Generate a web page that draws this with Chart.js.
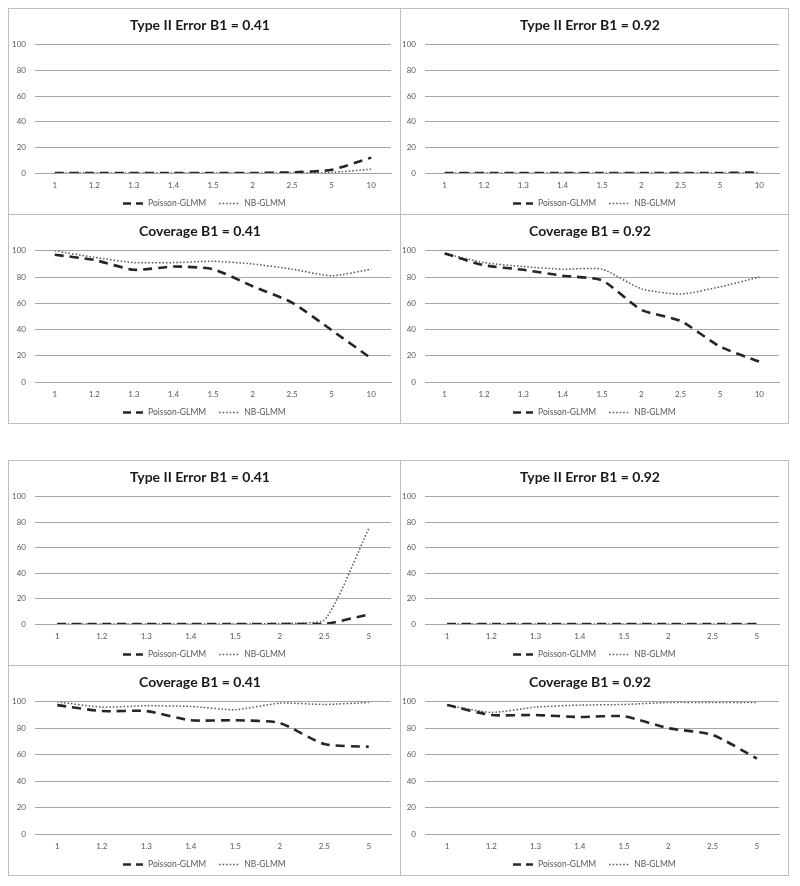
<!DOCTYPE html>
<html>
<head>
<meta charset="utf-8">
<script src="https://cdn.jsdelivr.net/npm/chart.js@4/dist/chart.umd.min.js"></script>
<style>
  body { margin: 0; background: #fff; width: 800px; height: 886px; position: relative; }
  .panel { position: absolute; border: 1px solid #bfbfbf; box-sizing: border-box; background: #fff; }
  .panel canvas { position: absolute; left: 0; top: 0; }
</style>
</head>
<body>
<script>
// x categories
const ratiosLong = ['1', '1.2', '1.3', '1.4', '1.5', '2', '2.5', '5', '10'];
const ratiosShort = ['1', '1.2', '1.3', '1.4', '1.5', '2', '2.5', '5'];

// y axis
const yMin = 0;
const yMax = 100;
const yStep = 20;

const seriesNames = ['Poisson-GLMM', 'NB-GLMM'];

// first block (9 ratios)
const typeII041PoissonA = [0, 0, 0, 0, 0, 0, 0.5, 2.5, 12];
const typeII041NBA = [0, 0, 0, 0, 0, 0, 0, 0.5, 3];
const typeII092PoissonA = [0, 0, 0, 0, 0, 0, 0, 0, 0.5];
const typeII092NBA = [0, 0, 0, 0, 0, 0, 0, 0, 0];
const cov041PoissonA = [97, 93, 85.5, 88, 86, 73, 60.5, 39.5, 18];
const cov041NBA = [100, 95, 91, 91, 92, 90, 86, 81, 86];
const cov092PoissonA = [98, 89, 85.5, 81, 77.5, 55, 46.5, 27, 15.5];
const cov092NBA = [98, 91, 88, 86, 86, 71, 67, 72.5, 80];

// second block (8 ratios)
const typeII041PoissonB = [0, 0, 0, 0, 0, 0, 0, 7.5];
const typeII041NBB = [0, 0, 0, 0, 0, 0.5, 3, 75];
const typeII092PoissonB = [0, 0, 0, 0, 0, 0, 0, 0];
const typeII092NBB = [0, 0, 0, 0, 0, 0, 0, 0];
const cov041PoissonB = [97.5, 93, 93, 86, 86, 84, 68, 66];
const cov041NBB = [100, 96, 97, 96.5, 94, 99, 98, 99.5];
const cov092PoissonB = [97.5, 90, 90, 88.5, 89, 80, 75, 57];
const cov092NBB = [97.5, 92, 96, 97.5, 98, 99.5, 99.5, 99.5];

// panel boxes on the page
const panels = [
    { title: 'Type II Error B1 = 0.41', labels: ratiosLong, poisson: typeII041PoissonA, nb: typeII041NBA, box: [8, 8, 393, 207] },
    { title: 'Type II Error B1 = 0.92', labels: ratiosLong, poisson: typeII092PoissonA, nb: typeII092NBA, box: [400, 8, 389, 207] },
    { title: 'Coverage B1 = 0.41', labels: ratiosLong, poisson: cov041PoissonA, nb: cov041NBA, box: [8, 214, 393, 210] },
    { title: 'Coverage B1 = 0.92', labels: ratiosLong, poisson: cov092PoissonA, nb: cov092NBA, box: [400, 214, 389, 210] },
    { title: 'Type II Error B1 = 0.41', labels: ratiosShort, poisson: typeII041PoissonB, nb: typeII041NBB, box: [8, 460, 393, 206] },
    { title: 'Type II Error B1 = 0.92', labels: ratiosShort, poisson: typeII092PoissonB, nb: typeII092NBB, box: [400, 460, 389, 206] },
    { title: 'Coverage B1 = 0.41', labels: ratiosShort, poisson: cov041PoissonB, nb: cov041NBB, box: [8, 665, 393, 211] },
    { title: 'Coverage B1 = 0.92', labels: ratiosShort, poisson: cov092PoissonB, nb: cov092NBB, box: [400, 665, 389, 211] }
];

const fontFamily = 'Lato, "Open Sans", sans-serif';

// excel-like legend under the axis: dashed sample + name, items centred
// (the built-in legend loses borderDash with point styles, so it is drawn here)
const bottomLegend = {
    id: 'bottomLegend',
    afterDraw(chart) {
        const ctx = chart.ctx;
        const sample = 20, textGap = 5, itemGap = 13;
        const y = Math.round(chart.chartArea.bottom + 30) + 0.5;
        ctx.save();
        ctx.font = '8.5px ' + fontFamily;
        const items = chart.data.datasets.map(ds => ({ ds, w: ctx.measureText(ds.label).width }));
        const total = items.reduce((s, it) => s + sample + textGap + it.w, 0) + itemGap * (items.length - 1);
        let x = Math.round((chart.width - total) / 2);
        items.forEach(it => {
            ctx.strokeStyle = it.ds.borderColor;
            ctx.lineWidth = it.ds.borderWidth;
            ctx.setLineDash(it.ds.legendDash);
            ctx.beginPath();
            ctx.moveTo(x, y);
            ctx.lineTo(x + sample, y);
            ctx.stroke();
            x += sample + textGap;
            ctx.fillStyle = '#595959';
            ctx.textBaseline = 'middle';
            ctx.fillText(it.ds.label, x, y);
            x += it.w + itemGap;
        });
        ctx.restore();
    }
};

panels.forEach((p, i) => {
    const [left, top, w, h] = p.box;
    const div = document.createElement('div');
    div.className = 'panel';
    div.style.left = left + 'px';
    div.style.top = top + 'px';
    div.style.width = w + 'px';
    div.style.height = h + 'px';
    const canvas = document.createElement('canvas');
    canvas.width = w - 2;
    canvas.height = h - 2;
    canvas.style.width = (w - 2) + 'px';
    canvas.style.height = (h - 2) + 'px';
    div.appendChild(canvas);
    document.body.appendChild(div);

    new Chart(canvas.getContext('2d'), {
        type: 'line',
        data: {
            labels: p.labels,
            datasets: [{
                label: seriesNames[0],
                data: p.poisson,
                borderColor: '#262626',
                backgroundColor: '#262626',
                borderWidth: 2.6,
                borderDash: [9, 6],
                legendDash: [8, 5],
                pointRadius: 0,
                tension: 0.2
            }, {
                label: seriesNames[1],
                data: p.nb,
                borderColor: '#555555',
                backgroundColor: '#555555',
                borderWidth: 1.5,
                borderDash: [1.5, 2],
                legendDash: [1.5, 2],
                pointRadius: 0,
                tension: 0.2
            }]
        },
        options: {
            responsive: false,
            animation: false,
            layout: { padding: { left: 0, right: 9, top: 0, bottom: 21 } },
            scales: {
                x: {
                    offset: true,
                    grid: { display: false, drawTicks: false },
                    border: { display: true, color: '#a6a6a6' },
                    ticks: { color: '#595959', font: { family: fontFamily, size: 8 }, padding: 8, maxRotation: 0, autoSkip: false },
                    afterFit: (axis) => { axis.height = 20; }
                },
                y: {
                    min: yMin,
                    max: yMax,
                    grid: { color: '#a6a6a6', drawTicks: false },
                    border: { display: false },
                    ticks: { stepSize: yStep, color: '#595959', font: { family: fontFamily, size: 8 }, padding: 9 },
                    afterFit: (axis) => { axis.width = i % 2 === 0 ? 26 : 24; }
                }
            },
            plugins: {
                title: {
                    display: true,
                    text: p.title,
                    color: '#1a1a1a',
                    font: { family: fontFamily, size: 14, weight: 'bold' },
                    padding: { top: 8, bottom: 11 }
                },
                legend: { display: false },
                tooltip: { enabled: false }
            }
        },
        plugins: [bottomLegend]
    });
});
</script>
</body>
</html>
